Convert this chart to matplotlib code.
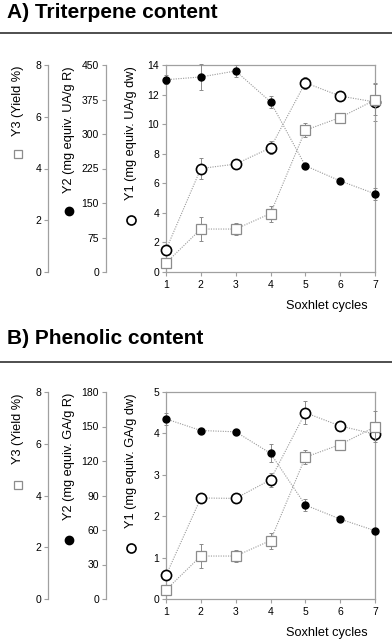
import matplotlib
matplotlib.use('Agg')
import matplotlib.pyplot as plt
from matplotlib.lines import Line2D

plt.rcParams['font.family'] = ['Liberation Sans', 'DejaVu Sans']

# ---------------- data ----------------
cycles = [1, 2, 3, 4, 5, 6, 7]
x_ticks = [1, 2, 3, 4, 5, 6, 7]

# Yield (%) – same extraction in both panels (Y3)
yield_pct = [0.35, 1.66, 1.66, 2.26, 5.48, 5.97, 6.65]
yield_err = [0.0, 0.46, 0.23, 0.31, 0.27, 0.14, 0.6]

# Panel A: triterpene content
tri_y1 = [1.5, 7.0, 7.3, 8.4, 12.8, 11.9, 11.5]           # mg equiv. UA/g dw
tri_y1_err = [0.0, 0.7, 0.3, 0.45, 0.4, 0.0, 1.3]
tri_y2 = [418, 424, 437, 370, 231, 198, 170]               # mg equiv. UA/g R
tri_y2_err = [10, 29, 13, 13, 0, 0, 13]
tri_y1_ticks = [0, 2, 4, 6, 8, 10, 12, 14]
tri_y2_ticks = [0, 75, 150, 225, 300, 375, 450]

# Panel B: phenolic content
phe_y1 = [0.57, 2.44, 2.43, 2.88, 4.50, 4.18, 3.98]        # mg equiv. GA/g dw
phe_y1_err = [0.0, 0.0, 0.0, 0.17, 0.28, 0.0, 0.13]
phe_y2 = [156.6, 146.5, 145.4, 126.7, 81.7, 69.5, 59.4]    # mg equiv. GA/g R
phe_y2_err = [5.4, 0, 0, 8, 5, 0, 0]
phe_y1_ticks = [0, 1, 2, 3, 4, 5]
phe_y2_ticks = [0, 30, 60, 90, 120, 150, 180]

y3_ticks = [0, 2, 4, 6, 8]

titles = ['A) Triterpene content', 'B) Phenolic content']
y1_labels = ['Y1 (mg equiv. UA/g dw)', 'Y1 (mg equiv. GA/g dw)']
y2_labels = ['Y2 (mg equiv. UA/g R)', 'Y2 (mg equiv. GA/g R)']
y3_label = 'Y3 (Yield %)'
x_label = 'Soxhlet cycles'

# ---------------- figure ----------------
W, H = 392, 643
fig = plt.figure(figsize=(W / 100, H / 100), dpi=100)

def fx(px):
    return px / W

def fy(py):
    return 1 - py / H

GRAY = '#a0a0a0'
ERR = '#8a8a8a'
LINE = '#9a9a9a'


def style_axis(ax):
    ax.tick_params(axis='y', direction='out', length=3, width=0.8, color=GRAY,
                   labelsize=7.5, pad=2)
    ax.spines['left'].set_color(GRAY)
    ax.spines['left'].set_linewidth(0.9)


def panel(top_px, bot_px, y1, y1e, y2, y2e, y1_ticks, y2_ticks,
          title, title_y, rule_y, lab1, lab2, mk_y):
    left_px, right_px = 166, 375
    ax1 = fig.add_axes([fx(left_px), fy(bot_px), (right_px - left_px) / W,
                        (bot_px - top_px) / H])
    ax2 = ax1.twinx()
    ax3 = ax1.twinx()
    for ax in (ax2, ax3):
        ax.yaxis.tick_left()
        for s in ('top', 'right', 'bottom'):
            ax.spines[s].set_visible(False)
        ax.spines['left'].set_visible(True)
        ax.patch.set_visible(False)
    ax2.spines['left'].set_position(('axes', (106 - left_px) / (right_px - left_px)))
    ax3.spines['left'].set_position(('axes', (48 - left_px) / (right_px - left_px)))

    for s in ax1.spines.values():
        s.set_color(GRAY)
        s.set_linewidth(0.9)
    for ax in (ax1, ax2, ax3):
        style_axis(ax)
    ax1.tick_params(axis='x', direction='out', length=3, width=0.8, color=GRAY,
                    labelsize=7.5, pad=2.5)
    ax1.tick_params(axis='y', right=False)

    ax1.set_xlim(1, 7)
    ax1.set_xticks(x_ticks)
    ax1.set_ylim(y1_ticks[0], y1_ticks[-1])
    ax1.set_yticks(y1_ticks)
    ax2.set_ylim(y2_ticks[0], y2_ticks[-1])
    ax2.set_yticks(y2_ticks)
    ax3.set_ylim(y3_ticks[0], y3_ticks[-1])
    ax3.set_yticks(y3_ticks)

    lstyle = dict(color=LINE, lw=0.8, ls=(0, (1, 1.2)), zorder=1, clip_on=False)
    ekw = dict(fmt='none', ecolor=ERR, elinewidth=0.7, capsize=1.5, capthick=0.7,
               zorder=2, clip_on=False)

    # Y3 (yield) squares
    ax3.plot(cycles, yield_pct, **lstyle)
    ax3.errorbar(cycles, yield_pct, yerr=yield_err, **ekw)
    ax3.plot(cycles, yield_pct, ls='none', marker='s', ms=6.5, mfc='white',
             mec='#8c8c8c', mew=0.9, zorder=3, clip_on=False)
    # Y2 filled circles
    ax2.plot(cycles, y2, **lstyle)
    ax2.errorbar(cycles, y2, yerr=y2e, **ekw)
    ax2.plot(cycles, y2, ls='none', marker='o', ms=5, mfc='black', mec='black',
             zorder=3, clip_on=False)
    # Y1 open circles
    ax1.plot(cycles, y1, **lstyle)
    ax1.errorbar(cycles, y1, yerr=y1e, **ekw)
    ax1.plot(cycles, y1, ls='none', marker='o', ms=7.3, mfc='white', mec='black',
             mew=1.2, zorder=3, clip_on=False)

    # title and rule
    fig.text(fx(7), fy(title_y), title, fontsize=15, fontweight='bold',
             va='center', ha='left')
    fig.add_artist(Line2D([0, 1], [fy(rule_y), fy(rule_y)], color='#404040',
                          lw=1.3, transform=fig.transFigure))

    # axis labels (rotated) with legend-like markers below them
    ty = fy(top_px + 1)
    fig.text(fx(18), ty, y3_label, rotation=90, fontsize=9.2, ha='center', va='top')
    fig.text(fx(69), ty, lab2, rotation=90, fontsize=9.2, ha='center', va='top')
    fig.text(fx(131), ty, lab1, rotation=90, fontsize=9.2, ha='center', va='top')
    fig.add_artist(Line2D([fx(18)], [fy(top_px + mk_y[0])], ls='none', marker='s',
                          ms=6, mfc='white', mec='#8c8c8c', mew=0.9,
                          transform=fig.transFigure))
    fig.add_artist(Line2D([fx(69)], [fy(top_px + mk_y[1])], ls='none', marker='o',
                          ms=6, mfc='black', mec='black',
                          transform=fig.transFigure))
    fig.add_artist(Line2D([fx(131)], [fy(top_px + mk_y[2])], ls='none', marker='o',
                          ms=6.5, mfc='white', mec='black', mew=1.2,
                          transform=fig.transFigure))

    fig.text(fx(368), fy(bot_px + 34), x_label, fontsize=9.2, ha='right', va='center')


panel(65, 272, tri_y1, tri_y1_err, tri_y2, tri_y2_err, tri_y1_ticks, tri_y2_ticks,
      titles[0], 13, 33, y1_labels[0], y2_labels[0], (89, 146, 155))
panel(392, 599, phe_y1, phe_y1_err, phe_y2, phe_y2_err, phe_y1_ticks, phe_y2_ticks,
      titles[1], 339, 362, y1_labels[1], y2_labels[1], (93, 148, 156))

fig.savefig('out.png', dpi=100)
